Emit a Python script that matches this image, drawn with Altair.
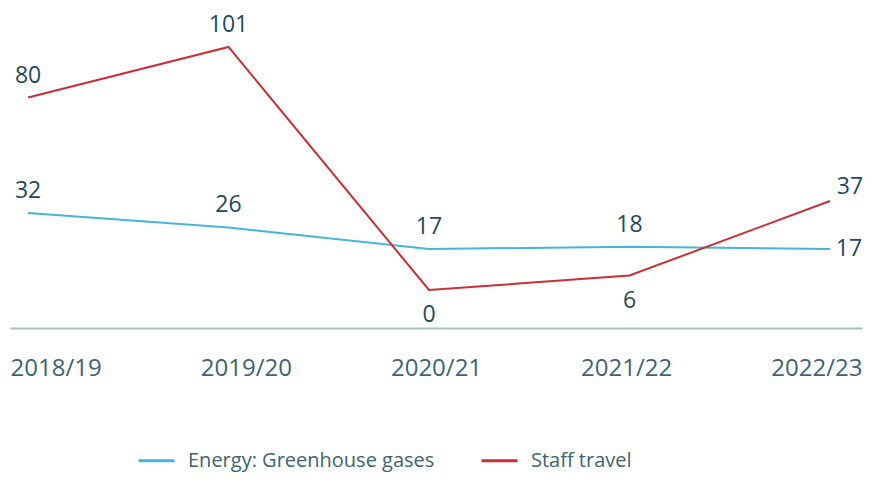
import altair as alt
import pandas as pd

years = ["2018/19", "2019/20", "2020/21", "2021/22", "2022/23"]
series_names = ["Energy: Greenhouse gases", "Staff travel"]
energy = [32, 26, 17, 18, 17]
travel = [80, 101, 0, 6, 37]

BLUE = "#45b5dc"
RED = "#cc2e36"
TXT = "#1f4a5c"
AX = "#3c6473"
FONT = "Open Sans"

rows = []
for i, y in enumerate(years):
    rows.append({"year": y, "idx": i, "series": series_names[0], "value": energy[i]})
    rows.append({"year": y, "idx": i, "series": series_names[1], "value": travel[i]})
df = pd.DataFrame(rows)
ydf = pd.DataFrame({"year": years})

xq = alt.X("idx:Q", scale=alt.Scale(domain=[-0.09, 4.16]), axis=None)
yq = alt.Y("value:Q", scale=alt.Scale(domain=[-15.8, 117.2]), axis=None)

base = alt.Chart(df)

lines = base.mark_line(strokeWidth=2).encode(
    x=xq, y=yq,
    color=alt.Color(
        "series:N",
        scale=alt.Scale(domain=series_names, range=[BLUE, RED]),
        legend=alt.Legend(
            title=None, orient="none", legendX=127, legendY=433,
            direction="horizontal", symbolType="stroke", symbolSize=1296,
            symbolStrokeWidth=3, labelFontSize=20, labelFont=FONT,
            labelColor=AX, columnPadding=40, labelOffset=12, labelLimit=0,
        ),
    ),
    detail="series:N",
)

def lbl(filt, dx=0, dy=0):
    return base.transform_filter(filt).mark_text(
        dx=dx, dy=dy, fontSize=23, font=FONT, color=TXT, baseline="middle"
    ).encode(x=xq, y=yq, text="value:Q")

above = lbl("datum.idx < 4 && !(datum.series == 'Staff travel' && (datum.idx == 2 || datum.idx == 3))", dy=-22)
below = lbl("datum.series == 'Staff travel' && (datum.idx == 2 || datum.idx == 3)", dy=25)
right_t = lbl("datum.idx == 4 && datum.series == 'Staff travel'", dx=20, dy=-14)
right_e = lbl("datum.idx == 4 && datum.series == 'Energy: Greenhouse gases'", dx=19, dy=0)

axis_layer = alt.Chart(ydf).mark_point(opacity=0).encode(
    x=alt.X("year:O", sort=years,
            scale=alt.Scale(type="point", padding=0.24),
            axis=alt.Axis(orient="bottom", title=None, ticks=False, grid=False,
                          labelAngle=0, labelFontSize=24, labelFont=FONT,
                          labelColor=AX, labelPadding=28,
                          domain=True, domainColor="#aabdc6", domainWidth=2)),
    y=alt.value(300),
)

chart = alt.layer(lines, above, below, right_t, right_e, axis_layer).resolve_scale(
    x="independent"
).properties(
    width=852, height=320,
    padding={"left": 2, "top": 0, "right": 4, "bottom": 147},
    autosize=alt.AutoSizeParams(type="none"),
).configure_view(stroke=None)

chart.save("out.html", embed_options={"renderer": "svg", "actions": False})
